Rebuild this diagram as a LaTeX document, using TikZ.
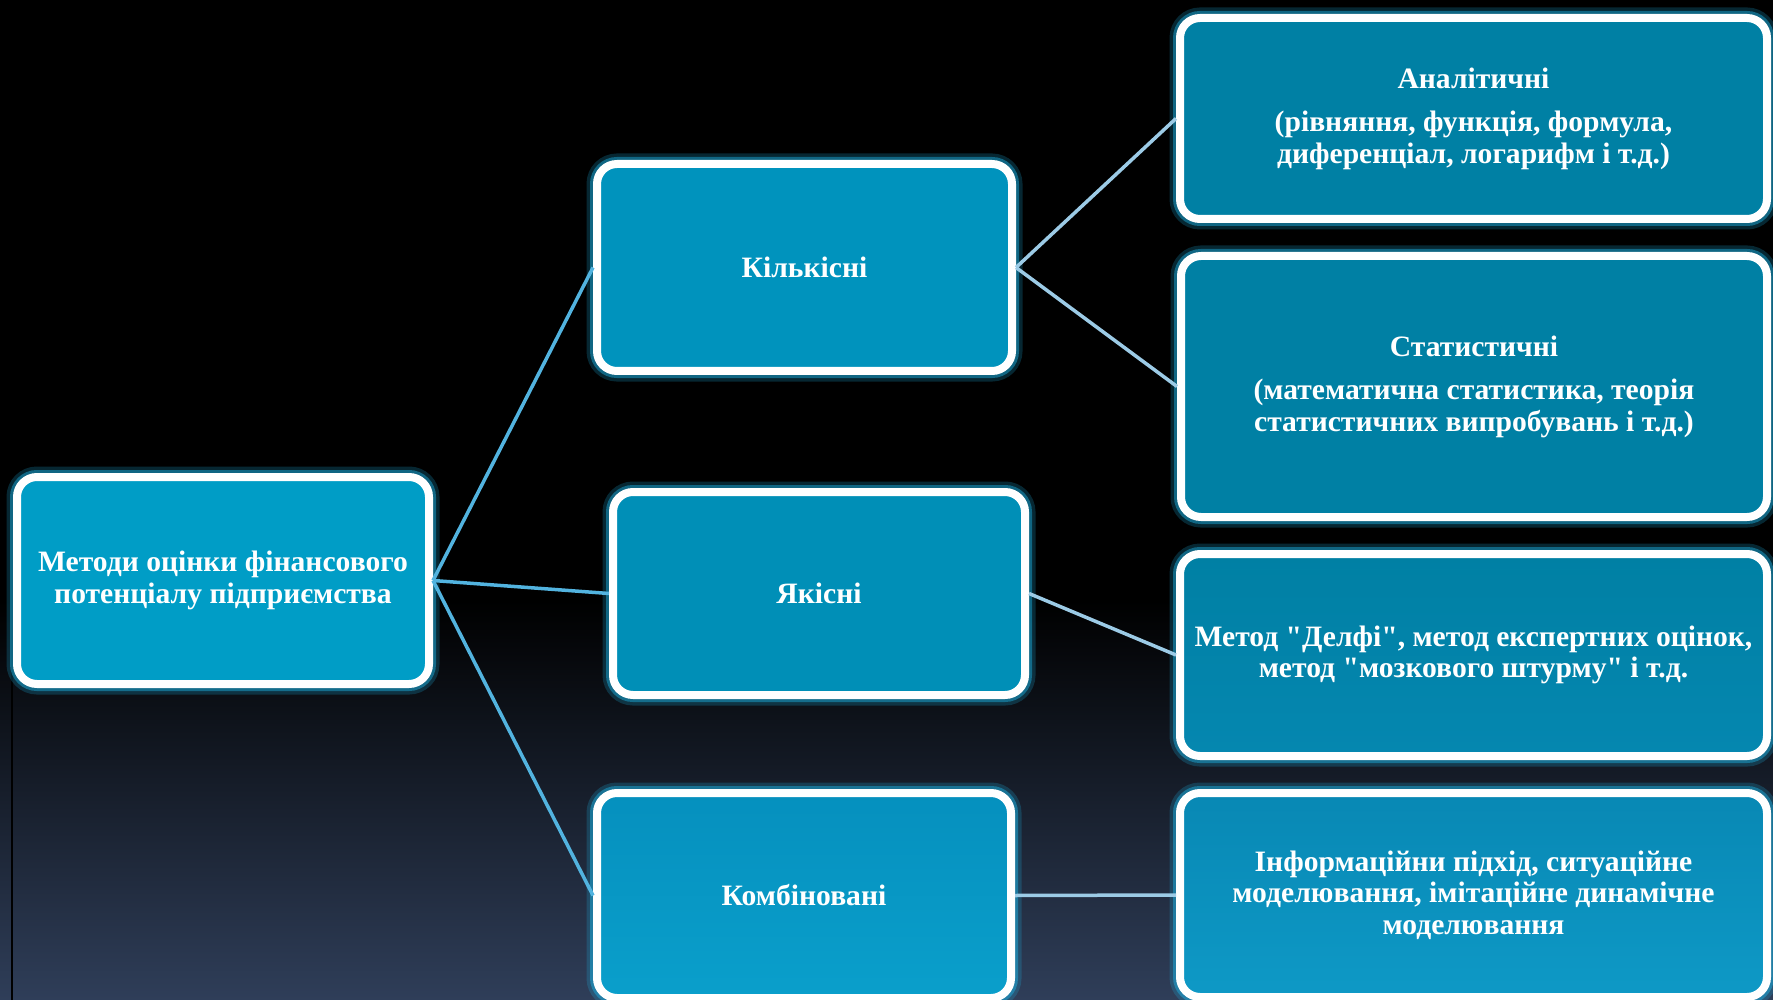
\documentclass[tikz,border=0pt]{standalone}
\usepackage{fontspec}
\setmainfont{Liberation Serif}
\definecolor{bgc}{HTML}{2F3E59}
\definecolor{glowc}{HTML}{1DB4E6}
\definecolor{rootc}{HTML}{009DC6}
\definecolor{midc}{HTML}{0093BD}
\definecolor{rightc}{HTML}{0080A4}
\definecolor{combtop}{HTML}{0590BE}
\definecolor{combbot}{HTML}{0A9FCB}
\definecolor{delbot}{HTML}{0587B0}
\definecolor{infotop}{HTML}{0888B4}
\definecolor{infobot}{HTML}{0E99C6}
\definecolor{linkc}{HTML}{52B3DF}
\definecolor{palec}{HTML}{9CCBE6}

\begin{document}
\begin{tikzpicture}[x=1pt, y=-1pt,
  glow/.style={preaction={draw=glowc, draw opacity=0.22, line width=21pt}, preaction={draw=glowc, draw opacity=0.45, line width=14pt}},
  box/.style = {glow, draw=white, line width=8pt, rounded corners=20pt, text=white, align=center, inner sep=0pt, font=\bfseries\fontsize{29.6}{31.5}\selectfont},
  link/.style = {line width=3.5pt, linkc},
  pale/.style = {line width=3.5pt, palec}]
    \useasboundingbox (0,0) rectangle (1773,1000);
    \fill[black] (0,0) rectangle (1773,1000);
    \shade[top color=black, bottom color=bgc] (0,600) rectangle (1773,1000);
    \draw[black, line width=1.5pt] (12,470) -- (12,1000);

    \node at (223,580.5) [box, fill=rootc, minimum width=412, minimum height=207] (meth) {Методи оцінки фінансового\\потенціалу підприємства};

    \node at (804.5,267.5) [box, fill=midc, minimum width=415, minimum height=207] (kil) {Кількісні};
    \node at (819,593.5) [box, fill=midc!97!black, minimum width=412, minimum height=203] (yak) {Якісні};
    \node at (804,895.5) [box, top color=combtop, bottom color=combbot, minimum width=414, minimum height=205] (komb) {Комбіновані};

    \node at (1473.5,118.5) [box, fill=rightc, minimum width=587, minimum height=201] (anal) {Аналітичні\\[12pt](рівняння, функція, формула,\\диференціал, логарифм і т.д.)};
    \node at (1474,386.5) [box, fill=rightc, minimum width=586, minimum height=261] (stat) {Статистичні\\[12pt](математична статистика, теорія\\статистичних випробувань і т.д.)};
    \node at (1473.5,655) [box, top color=rightc, bottom color=delbot, minimum width=587, minimum height=202] (delphi) {Метод \textquotedbl Делфі\textquotedbl, метод експертних оцінок,\\метод \textquotedbl мозкового штурму\textquotedbl{} і т.д.};
    \node at (1473.5,895) [box, top color=infotop, bottom color=infobot, minimum width=587, minimum height=204] (info) {Інформаційни підхід, ситуаційне\\моделювання, імітаційне динамічне\\моделювання};

    \draw[link] (meth.east) -- (kil.west);
    \draw[link] (meth.east) -- (yak.west);
    \draw[link] (meth.east) -- (komb.west);

    \draw[pale] (kil.east) -- (anal.west);
    \draw[pale] (kil.east) -- (stat.west);
    \draw[pale] (yak.east) -- (delphi.west);
    \draw[pale] (komb.east) -- (info.west);
\end{tikzpicture}
\end{document}
